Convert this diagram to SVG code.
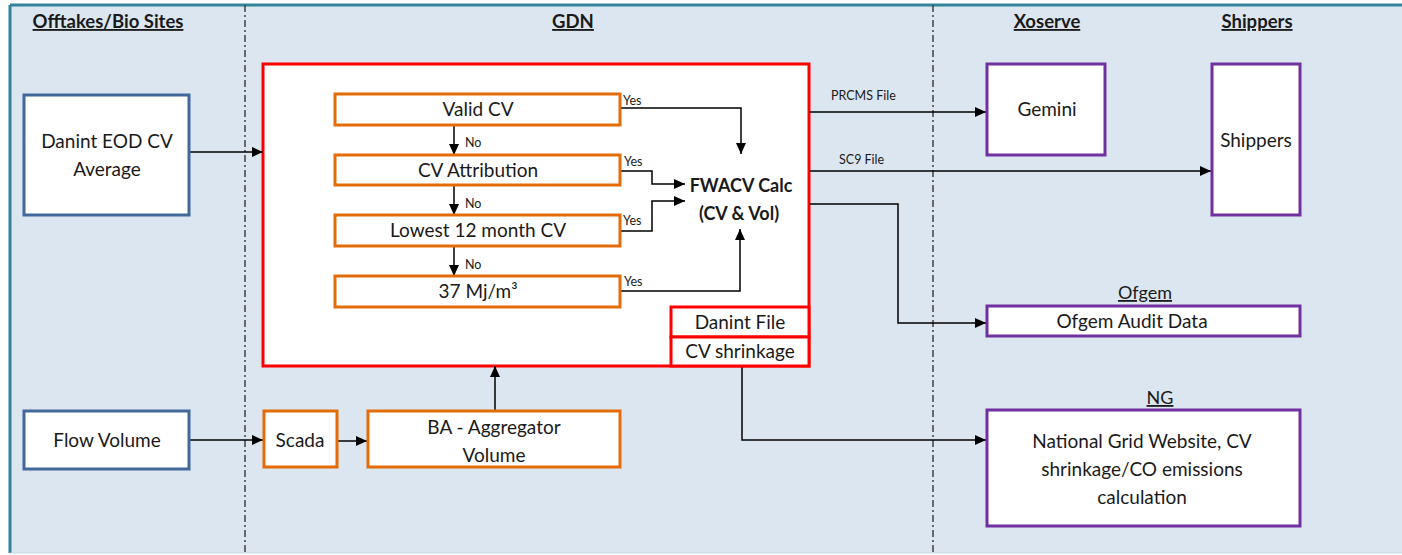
<svg xmlns="http://www.w3.org/2000/svg" width="1402" height="555" viewBox="0 0 1402 555">
<style>
text{font-family:Lato,"Liberation Sans",sans-serif;fill:#1a1a1a}
.lbl{font-size:19px;text-anchor:middle}
.bld{font-size:18px;font-weight:bold;text-anchor:middle}
.hdr{font-size:18.5px;font-weight:bold;text-anchor:middle;text-decoration:underline}
.sub{font-size:18px;text-anchor:middle;text-decoration:underline}
.sm{font-size:12.5px}
.blue{fill:#fff;stroke:#41689b;stroke-width:3}
.org{fill:#fff;stroke:#e36c09;stroke-width:3}
.red{fill:#fff;stroke:#ff0000;stroke-width:3}
.pur{fill:#fff;stroke:#7030a0;stroke-width:3}
.ln{fill:none;stroke:#000;stroke-width:1.5}
.div{stroke:#404040;stroke-width:1.5;stroke-dasharray:7 3 2 3}
</style>
<defs>
<marker id="ah" markerUnits="userSpaceOnUse" markerWidth="12" markerHeight="10" refX="11" refY="5" orient="auto">
<path d="M0,0 L11,5 L0,10 Z" fill="#000"/>
</marker>
</defs>
<rect x="0" y="0" width="1402" height="555" fill="#fff"/>
<rect x="10" y="5" width="1392" height="548" fill="#dce6f1"/>
<line x1="10" y1="5" x2="1402" y2="5" stroke="#31849b" stroke-width="3"/>
<line x1="10" y1="5" x2="10" y2="553" stroke="#31849b" stroke-width="3"/>
<line x1="10" y1="553" x2="1402" y2="553" stroke="#c5d5e5" stroke-width="1"/>
<line class="div" x1="245" y1="5" x2="245" y2="553"/>
<line class="div" x1="933" y1="5" x2="933" y2="553"/>
<text class="hdr" x="108" y="28">Offtakes/Bio Sites</text>
<text class="hdr" x="573" y="28">GDN</text>
<text class="hdr" x="1047" y="28">Xoserve</text>
<text class="hdr" x="1257" y="28">Shippers</text>
<text class="sub" x="1145" y="299">Ofgem</text>
<text class="sub" x="1160" y="404">NG</text>

<g id="gdn-box">
<rect class="red" x="263" y="64" width="546" height="302"/>
</g>

<g id="connectors">
<line class="ln" x1="189" y1="152" x2="263" y2="152" marker-end="url(#ah)"/>
<line class="ln" x1="189" y1="440" x2="263" y2="440" marker-end="url(#ah)"/>
<line class="ln" x1="337" y1="441" x2="367" y2="441" marker-end="url(#ah)"/>
<line class="ln" x1="495" y1="410" x2="495" y2="366" marker-end="url(#ah)"/>
<line class="ln" x1="454" y1="125" x2="454" y2="155" marker-end="url(#ah)"/>
<line class="ln" x1="454" y1="185" x2="454" y2="215" marker-end="url(#ah)"/>
<line class="ln" x1="454" y1="246" x2="454" y2="276" marker-end="url(#ah)"/>
<polyline class="ln" points="620,108 741,108 741,154" marker-end="url(#ah)"/>
<polyline class="ln" points="620,171 652,171 652,184 685,184" marker-end="url(#ah)"/>
<polyline class="ln" points="620,231 652,231 652,201 685,201" marker-end="url(#ah)"/>
<polyline class="ln" points="620,291 740,291 740,229" marker-end="url(#ah)"/>
<line class="ln" x1="809" y1="112" x2="986" y2="112" marker-end="url(#ah)"/>
<line class="ln" x1="809" y1="171" x2="1211" y2="171" marker-end="url(#ah)"/>
<polyline class="ln" points="809,204 898,204 898,323 986,323" marker-end="url(#ah)"/>
<polyline class="ln" points="742,366 742,440 986,440" marker-end="url(#ah)"/>
<text class="sm" x="465" y="147">No</text>
<text class="sm" x="465" y="208">No</text>
<text class="sm" x="465" y="269">No</text>
<text class="sm" x="623" y="105">Yes</text>
<text class="sm" x="624" y="166">Yes</text>
<text class="sm" x="623" y="225">Yes</text>
<text class="sm" x="624" y="286">Yes</text>
<text class="sm" x="831" y="100">PRCMS File</text>
<text class="sm" x="839" y="164">SC9 File</text>
</g>

<g id="danint-eod">
<rect class="blue" x="24" y="95" width="165" height="120"/>
<text class="lbl" x="107" y="148">Danint EOD CV</text>
<text class="lbl" x="107" y="176">Average</text>
</g>
<g id="flow-volume">
<rect class="blue" x="24" y="411" width="165" height="58"/>
<text class="lbl" x="107" y="447">Flow Volume</text>
</g>
<g id="valid-cv">
<rect class="org" x="335" y="94" width="285" height="31"/>
<text class="lbl" x="478" y="116">Valid CV</text>
</g>
<g id="cv-attribution">
<rect class="org" x="335" y="155" width="285" height="30"/>
<text class="lbl" x="478" y="177">CV Attribution</text>
</g>
<g id="lowest-12">
<rect class="org" x="335" y="215" width="285" height="31"/>
<text class="lbl" x="478" y="237">Lowest 12 month CV</text>
</g>
<g id="default-37">
<rect class="org" x="335" y="276" width="285" height="31"/>
<text class="lbl" x="478" y="298">37 Mj/m³</text>
</g>
<g id="fwacv">
<text class="bld" x="741" y="192">FWACV Calc</text>
<text class="bld" x="739" y="220">(CV &amp; Vol)</text>
</g>
<g id="danint-file">
<rect class="red" x="671" y="307" width="138" height="30"/>
<text class="lbl" x="740" y="329">Danint File</text>
</g>
<g id="cv-shrinkage">
<rect class="red" x="671" y="337" width="138" height="29"/>
<text class="lbl" x="740" y="358">CV shrinkage</text>
</g>
<g id="scada">
<rect class="org" x="264" y="411" width="73" height="56"/>
<text class="lbl" x="300" y="447">Scada</text>
</g>
<g id="ba-aggregator">
<rect class="org" x="368" y="411" width="252" height="56"/>
<text class="lbl" x="494" y="434">BA - Aggregator</text>
<text class="lbl" x="494" y="462">Volume</text>
</g>
<g id="gemini">
<rect class="pur" x="987" y="64" width="118" height="91"/>
<text class="lbl" x="1047" y="116">Gemini</text>
</g>
<g id="shippers">
<rect class="pur" x="1212" y="64" width="88" height="151"/>
<text class="lbl" x="1256" y="147">Shippers</text>
</g>
<g id="ofgem-audit">
<rect class="pur" x="987" y="306" width="313" height="30"/>
<text class="lbl" x="1132" y="328">Ofgem Audit Data</text>
</g>
<g id="ng-website">
<rect class="pur" x="987" y="410" width="313" height="116"/>
<text class="lbl" x="1142" y="448">National Grid Website, CV</text>
<text class="lbl" x="1142" y="476">shrinkage/CO emissions</text>
<text class="lbl" x="1142" y="504">calculation</text>
</g>
</svg>
